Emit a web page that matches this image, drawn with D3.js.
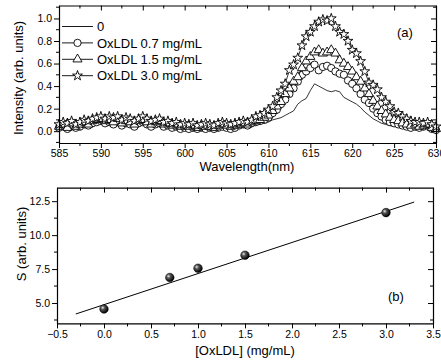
<!DOCTYPE html>
<html><head><meta charset="utf-8">
<script src="https://cdn.jsdelivr.net/npm/d3@7"></script>
<style>
html,body{margin:0;padding:0;background:#fff;}
svg{display:block;font-family:"Liberation Sans",Arial,sans-serif;}
</style></head>
<body><svg id="c" width="441" height="362"></svg>
<script>
// ---- Panel (a) data ----
const wavelength = [
585,585.5,586,586.5,587,587.5,588,588.5,589,589.5,
590,590.5,591,591.5,592,592.5,593,593.5,594,594.5,
595,595.5,596,596.5,597,597.5,598,598.5,599,599.5,
600,600.5,601,601.5,602,602.5,603,603.5,604,604.5,
605,605.5,606,606.5,607,607.5,608,608.5,609,609.5,
610,610.5,611,611.5,612,612.5,613,613.5,614,614.5,
615,615.5,616,616.5,617,617.5,618,618.5,619,619.5,
620,620.5,621,621.5,622,622.5,623,623.5,624,624.5,
625,625.5,626,626.5,627,627.5,628,628.5,629,629.5,
630];
const int0 = [
0.05,0.07,0.04,0.06,0.05,0.07,0.08,0.07,0.09,0.10,
0.10,0.08,0.09,0.07,0.10,0.06,0.08,0.07,0.05,0.08,
0.09,0.07,0.05,0.07,0.08,0.05,0.06,0.04,0.05,0.03,
0.04,0.03,0.04,0.03,0.04,0.03,0.04,0.03,0.05,0.04,
0.04,0.03,0.04,0.05,0.06,0.05,0.06,0.07,0.08,0.07,
0.08,0.10,0.11,0.12,0.14,0.16,0.18,0.24,0.27,0.29,
0.36,0.42,0.40,0.38,0.36,0.35,0.36,0.35,0.30,0.28,
0.26,0.24,0.21,0.17,0.14,0.11,0.09,0.07,0.06,0.05,
0.04,0.05,0.04,0.03,0.04,0.03,0.04,0.03,0.04,0.02,
0.02];
const int07 = [
0.03,0.05,0.02,0.05,0.03,0.04,0.06,0.05,0.07,0.08,
0.09,0.07,0.08,0.06,0.09,0.05,0.07,0.06,0.04,0.07,
0.08,0.06,0.04,0.06,0.07,0.04,0.05,0.03,0.04,0.02,
0.03,0.02,0.03,0.02,0.03,0.02,0.03,0.02,0.03,0.04,
0.03,0.02,0.03,0.05,0.06,0.05,0.07,0.08,0.09,0.10,
0.12,0.16,0.19,0.24,0.28,0.33,0.38,0.44,0.50,0.53,
0.56,0.59,0.54,0.57,0.58,0.56,0.53,0.51,0.50,0.45,
0.42,0.38,0.33,0.28,0.25,0.20,0.16,0.13,0.10,0.08,
0.07,0.06,0.05,0.04,0.03,0.04,0.03,0.04,0.05,0.02,
0.01];
const int15 = [
0.04,0.06,0.03,0.07,0.04,0.06,0.08,0.06,0.09,0.10,
0.11,0.09,0.10,0.08,0.11,0.07,0.09,0.08,0.06,0.09,
0.10,0.08,0.06,0.08,0.09,0.06,0.07,0.05,0.06,0.04,
0.05,0.04,0.05,0.03,0.05,0.04,0.04,0.03,0.05,0.06,
0.05,0.04,0.05,0.06,0.07,0.06,0.08,0.09,0.10,0.12,
0.14,0.18,0.22,0.26,0.33,0.38,0.44,0.48,0.56,0.62,
0.66,0.70,0.72,0.69,0.70,0.72,0.69,0.63,0.60,0.57,
0.53,0.48,0.44,0.38,0.33,0.27,0.22,0.18,0.15,0.12,
0.10,0.09,0.07,0.06,0.05,0.06,0.04,0.05,0.06,0.03,
0.02];
const int30 = [
0.06,0.08,0.07,0.09,0.06,0.08,0.10,0.09,0.11,0.12,
0.13,0.11,0.13,0.12,0.13,0.10,0.12,0.11,0.09,0.11,
0.13,0.11,0.09,0.10,0.11,0.08,0.09,0.07,0.08,0.06,
0.07,0.06,0.07,0.05,0.06,0.07,0.06,0.05,0.07,0.08,
0.07,0.06,0.07,0.08,0.09,0.08,0.10,0.13,0.14,0.16,
0.19,0.22,0.30,0.36,0.42,0.54,0.59,0.65,0.76,0.84,
0.88,0.93,0.97,0.99,0.98,1.00,0.93,0.88,0.86,0.80,
0.72,0.69,0.62,0.53,0.43,0.41,0.37,0.30,0.26,0.22,
0.17,0.16,0.13,0.11,0.09,0.08,0.08,0.07,0.08,0.06,
0.04];
const seriesLabels = ["0","OxLDL 0.7 mg/mL","OxLDL 1.5 mg/mL","OxLDL 3.0 mg/mL"];
const seriesMarkers = ["none","circle","triangle","star"];
const xTicksA = [585,590,595,600,605,610,615,620,625,630];
const yTicksA = [0.0,0.2,0.4,0.6,0.8,1.0];

// ---- Panel (b) data ----
const conc = [0.0, 0.7, 1.0, 1.5, 3.0];
const sVal = [4.56, 6.88, 7.56, 8.52, 11.66];
const fitIntercept = 4.88, fitSlope = 2.29, fitRange = [-0.3, 3.3];
const xTicksB = [-0.5,0.0,0.5,1.0,1.5,2.0,2.5,3.0,3.5];
const yTicksB = [5.0,7.5,10.0,12.5];

const svg = d3.select("#c");
svg.append("rect").attr("width",441).attr("height",362).attr("fill","#fff");

const defs = svg.append("defs");
const rg = defs.append("radialGradient").attr("id","ball").attr("cx","0.35").attr("cy","0.35").attr("r","0.65");
rg.append("stop").attr("offset","0").attr("stop-color","#e8e8e8");
rg.append("stop").attr("offset","0.35").attr("stop-color","#555");
rg.append("stop").attr("offset","1").attr("stop-color","#000");

function frame(g, x, y, xTicks, yTicks, xMinorStep, yMinorStep, xFmt, yFmt){
  const [x0,x1] = x.range(), [y0,y1] = y.range();
  const xd = x.domain(), yd = y.domain();
  const minorX = [], minorY = [];
  for (let v = Math.ceil(xd[0]/xMinorStep)*xMinorStep; v <= xd[1]+1e-9; v += xMinorStep) minorX.push(+v.toFixed(6));
  for (let v = Math.ceil(yd[0]/yMinorStep)*yMinorStep; v <= yd[1]+1e-9; v += yMinorStep) minorY.push(+v.toFixed(6));
  const isMajor = (v, arr) => arr.some(t => Math.abs(t-v)<1e-6);
  const bx = d3.axisBottom(x).tickValues(xTicks).tickSize(5).tickSizeOuter(0).tickFormat(xFmt).tickPadding(2);
  const gb = g.append("g").attr("transform",`translate(0,${y0})`).call(bx);
  gb.append("g").selectAll("line").data(minorX.filter(v=>!isMajor(v,xTicks))).join("line")
    .attr("x1",d=>x(d)).attr("x2",d=>x(d)).attr("y1",0).attr("y2",3).attr("stroke","#000");
  const ly = d3.axisLeft(y).tickValues(yTicks).tickSize(5).tickSizeOuter(0).tickFormat(yFmt).tickPadding(2);
  const gl = g.append("g").attr("transform",`translate(${x0},0)`).call(ly);
  gl.append("g").selectAll("line").data(minorY.filter(v=>!isMajor(v,yTicks))).join("line")
    .attr("y1",d=>y(d)).attr("y2",d=>y(d)).attr("x1",0).attr("x2",-3).attr("stroke","#000");
  const tx = d3.axisTop(x).tickValues(xTicks).tickSize(-5).tickSizeOuter(0).tickFormat("");
  const gt = g.append("g").attr("transform",`translate(0,${y1})`).call(tx);
  gt.append("g").selectAll("line").data(minorX.filter(v=>!isMajor(v,xTicks))).join("line")
    .attr("x1",d=>x(d)).attr("x2",d=>x(d)).attr("y1",0).attr("y2",3).attr("stroke","#000");
  const ry = d3.axisRight(y).tickValues(yTicks).tickSize(-5).tickSizeOuter(0).tickFormat("");
  const gr = g.append("g").attr("transform",`translate(${x1},0)`).call(ry);
  gr.append("g").selectAll("line").data(minorY.filter(v=>!isMajor(v,yTicks))).join("line")
    .attr("y1",d=>y(d)).attr("y2",d=>y(d)).attr("x1",0).attr("x2",-3).attr("stroke","#000");
  g.selectAll(".domain").attr("stroke","#000").attr("stroke-width",1.2);
  g.selectAll(".tick line").attr("stroke","#000");
  g.selectAll(".tick text").attr("font-family",'"Liberation Sans",Arial,sans-serif').attr("font-size",10.5).attr("fill","#000");
}

// ===== Panel (a) =====
const xa = d3.scaleLinear().domain([585,630]).range([59,436]);
const ya = d3.scaleLinear().domain([-0.105,1.115]).range([143,5.5]);
const ga = svg.append("g");

const seriesData = [int0,int07,int15,int30];
const sym = {
  circle: d3.symbol().type(d3.symbolCircle).size(42),
  triangle: d3.symbol().type(d3.symbolTriangle).size(36),
  star: d3.symbol().type(d3.symbolStar).size(30)
};
const lineA = d3.line().x(d=>xa(d[0])).y(d=>ya(d[1]));
const plotA = ga.append("g");
seriesData.forEach((vals,i)=>{
  const pts = wavelength.map((w,j)=>[w, vals[j]]);
  const gs = plotA.append("g");
  gs.append("path").attr("d",lineA(pts)).attr("fill","none").attr("stroke","#000").attr("stroke-width",0.8);
  const m = seriesMarkers[i];
  if (m !== "none") {
    gs.selectAll("path.mk").data(pts).join("path").attr("class","mk")
      .attr("d",sym[m]()).attr("transform",d=>`translate(${xa(d[0])},${ya(d[1])})`)
      .attr("fill","#fff").attr("stroke","#000").attr("stroke-width",0.9);
  }
});
frame(ga, xa, ya, xTicksA, yTicksA, 2.5, 0.1, d3.format("d"), d3.format(".1f"));

const leg = ga.append("g");
seriesLabels.forEach((lab,i)=>{
  const yy = 26.5 + i*16.4;
  leg.append("line").attr("x1",62).attr("x2",93).attr("y1",yy).attr("y2",yy).attr("stroke","#000").attr("stroke-width",0.9);
  const m = seriesMarkers[i];
  if (m!=="none") leg.append("path").attr("d",sym[m]()).attr("transform",`translate(77.5,${yy})`)
      .attr("fill","#fff").attr("stroke","#000").attr("stroke-width",0.9);
  leg.append("text").attr("x",97).attr("y",yy).attr("dy","0.36em").attr("font-size",13).text(lab);
});
ga.append("text").attr("x",397).attr("y",32).attr("dy","0.36em").attr("font-size",13).text("(a)");
ga.append("text").attr("x",247).attr("y",166).attr("dy","0.36em").attr("text-anchor","middle").attr("font-size",13).text("Wavelength(nm)");
ga.append("text").attr("transform","translate(18,78) rotate(-90)").attr("dy","0.36em").attr("text-anchor","middle").attr("font-size",13).text("Intensity (arb. units)");

// ===== Panel (b) =====
const xb = d3.scaleLinear().domain([-0.5,3.5]).range([57,433]);
const yb = d3.scaleLinear().domain([3.5,13.5]).range([323.4,187.6]);
const gbp = svg.append("g");
frame(gbp, xb, yb, xTicksB, yTicksB, 0.25, 1.25, d3.format(".1f"), d3.format(".1f"));
const fitPts = fitRange.map(x=>[x, fitIntercept + fitSlope*x]);
gbp.append("path").attr("d", d3.line().x(d=>xb(d[0])).y(d=>yb(d[1]))(fitPts))
  .attr("fill","none").attr("stroke","#000").attr("stroke-width",1);
gbp.selectAll("circle.pt").data(conc.map((c,i)=>[c,sVal[i]])).join("circle").attr("class","pt")
  .attr("cx",d=>xb(d[0])).attr("cy",d=>yb(d[1])).attr("r",4.3).attr("fill","url(#ball)").attr("stroke","#000").attr("stroke-width",0.5);
gbp.append("text").attr("x",388).attr("y",296).attr("dy","0.36em").attr("font-size",13).text("(b)");
gbp.append("text").attr("x",245).attr("y",350).attr("dy","0.36em").attr("text-anchor","middle").attr("font-size",13).text("[OxLDL] (mg/mL)");
gbp.append("text").attr("transform","translate(21,244) rotate(-90)").attr("dy","0.36em").attr("text-anchor","middle").attr("font-size",13).text("S (arb. units)");
</script></body></html>
